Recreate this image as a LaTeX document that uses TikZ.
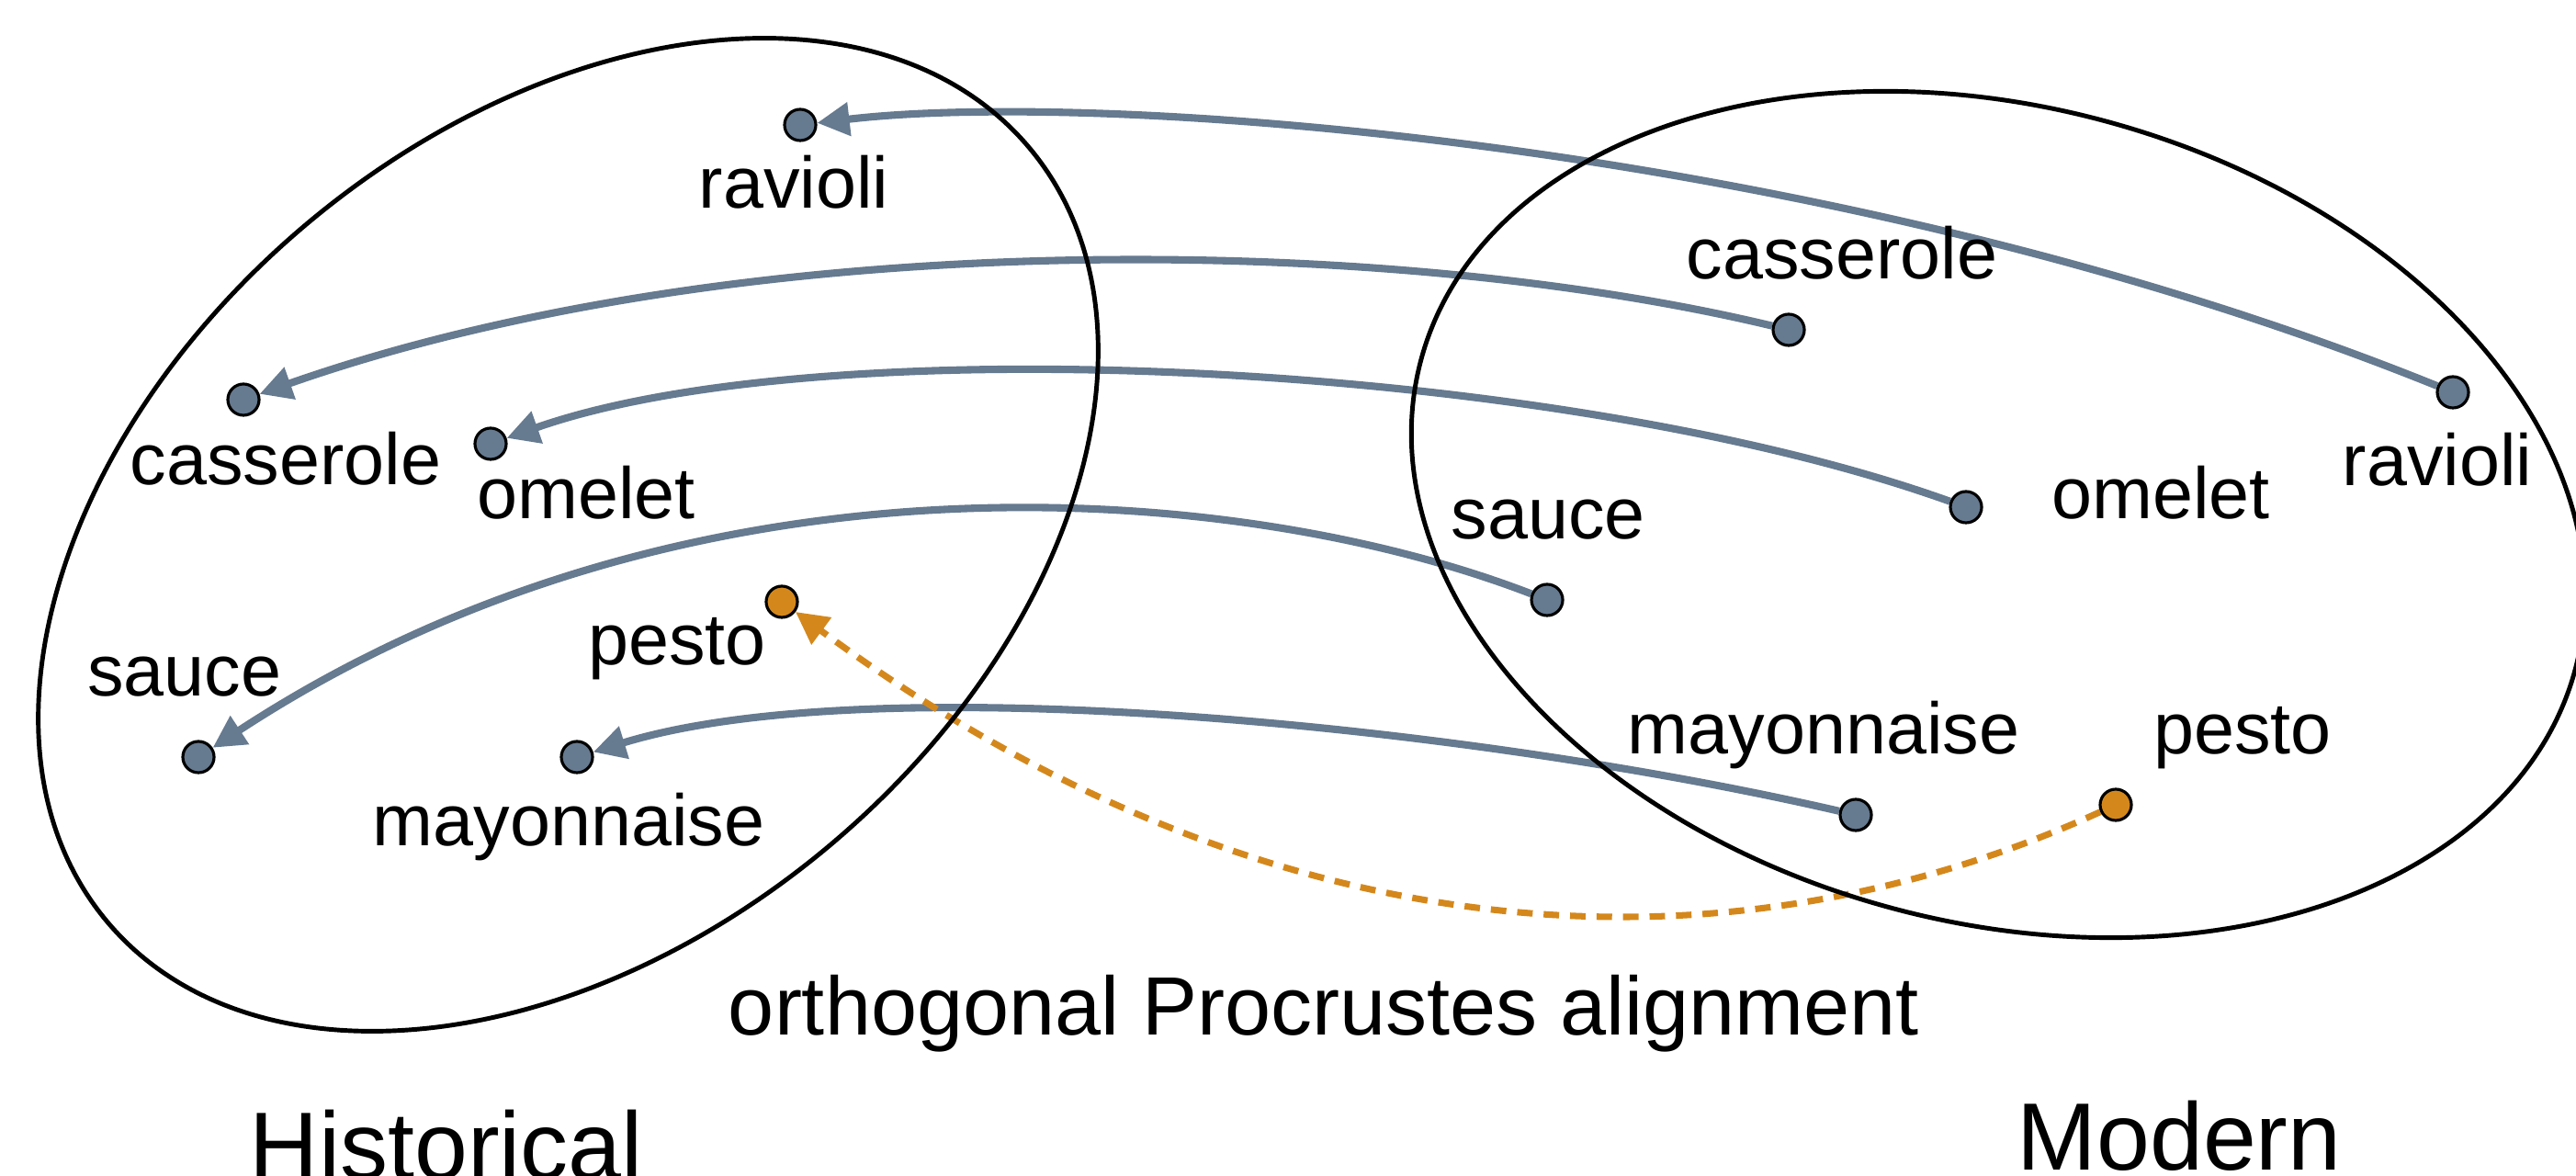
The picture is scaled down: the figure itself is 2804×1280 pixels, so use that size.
\documentclass[tikz,border=0pt]{standalone}
\usepackage{fontspec}
\setmainfont{Liberation Sans}
\usetikzlibrary{arrows.meta}
\pgfdeclarelayer{background}
\pgfsetlayers{background,main}
\definecolor{slate}{RGB}{102,122,144}
\definecolor{amber}{RGB}{212,136,28}

\begin{document}
\begin{tikzpicture}[x=0.01cm,y=-0.01cm,
  dot/.style={circle,draw=black,line width=0.9pt,inner sep=0pt,minimum size=0.34cm,fill=slate},
  pdot/.style={dot,fill=amber},
  word/.style={anchor=base,inner sep=0pt,font=\fontsize{22.5pt}{27pt}\selectfont},
  caption/.style={anchor=base,inner sep=0pt,font=\fontsize{25.6pt}{31pt}\selectfont},
  heading/.style={anchor=base,inner sep=0pt,font=\fontsize{29.6pt}{35pt}\selectfont},
  movearrow/.style={draw=slate,line width=2.3pt,-{Triangle[length=10pt,width=10pt]}},
  pestoarrow/.style={draw=amber,line width=2pt,dash pattern=on 4.8pt off 3.4pt,-{Triangle[length=10pt,width=10pt]}},
  region/.style={draw=black,line width=1.4pt}]

\useasboundingbox (0,0) rectangle (2804,1280);

% historical embedding space
\node[dot]  (hrav)  at (871,136) {};
\node[dot]  (hcas)  at (265,435) {};
\node[dot]  (home)  at (534,483) {};
\node[dot]  (hsau)  at (216,824) {};
\node[pdot] (hpes)  at (851,655) {};
\node[dot]  (hmay)  at (628,824) {};

\node[word] (hravL) at (864,227) {ravioli};
\node[word] (hcasL) at (311,528) {casserole};
\node[word] (homeL) at (638,565) {omelet};
\node[word] (hsauL) at (201,758) {sauce};
\node[word] (hpesL) at (737,724) {pesto};
\node[word] (hmayL) at (619,921) {mayonnaise};

% modern embedding space
\node[dot]  (mcas)  at (1947,359) {};
\node[dot]  (mrav)  at (2670,427) {};
\node[dot]  (mome)  at (2140,552) {};
\node[dot]  (msau)  at (1684,653) {};
\node[dot]  (mmay)  at (2020,887) {};
\node[pdot] (mpes)  at (2303,876) {};

\node[word] (mcasL) at (2005,304) {casserole};
\node[word] (mravL) at (2653,529) {ravioli};
\node[word] (momeL) at (2352,565) {omelet};
\node[word] (msauL) at (1685,587) {sauce};
\node[word] (mmayL) at (1985,821) {mayonnaise};
\node[word] (mpesL) at (2441,821) {pesto};

\node[caption] (procr) at (1441,1126) {orthogonal Procrustes alignment};
\node[heading] (hist)  at (486,1283) {Historical};
\node[heading] (mod)   at (2372,1273) {Modern};

\begin{pgfonlayer}{background}
  % word shifts between the two spaces
  \draw[movearrow] (mrav) .. controls (2000,156) and (1200,97) .. (hrav);
  \draw[movearrow] (mcas) .. controls (1500,252) and (800,247) .. (hcas);
  \draw[movearrow] (mome) .. controls (1700,394) and (900,354) .. (home);
  \draw[movearrow] (msau) .. controls (1350,524) and (750,474) .. (hsau);
  \draw[movearrow] (mmay) .. controls (1600,790) and (950,725) .. (hmay);
  \draw[pestoarrow] (mpes) .. controls (1900,1060) and (1400,1060) .. (hpes);
  % the two spaces
  \draw[region, rotate around={40:(618.5,582)}] (618.5,582) ellipse [x radius=6.548cm, y radius=4.418cm];
  \draw[region, rotate around={-15:(2175,560)}] (2175,560) ellipse [x radius=6.50cm, y radius=4.435cm];
\end{pgfonlayer}
\end{tikzpicture}
\end{document}
